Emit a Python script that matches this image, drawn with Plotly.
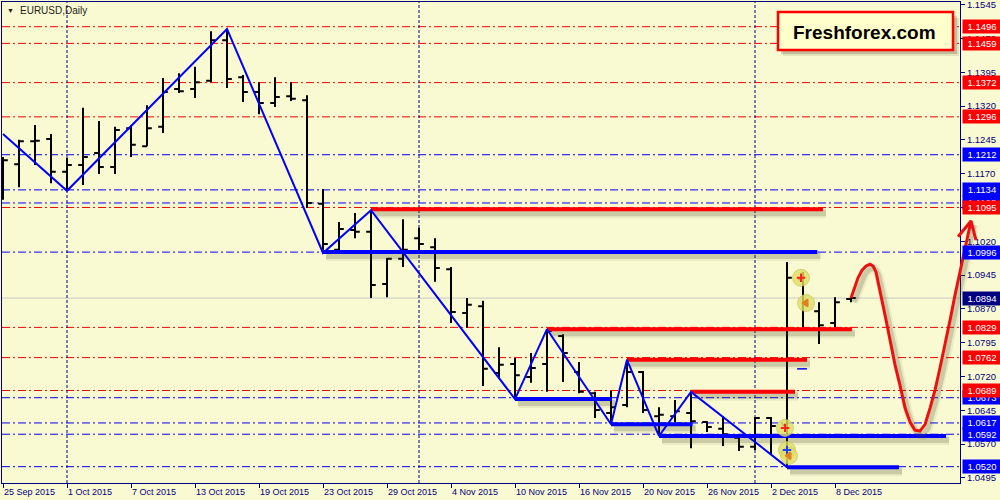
import plotly.graph_objects as go

# ---------------- data ----------------
dates = ["2015-09-25", "2015-09-28", "2015-09-29", "2015-09-30",
         "2015-10-01", "2015-10-02", "2015-10-05", "2015-10-06", "2015-10-07", "2015-10-08", "2015-10-09",
         "2015-10-12", "2015-10-13", "2015-10-14", "2015-10-15", "2015-10-16", "2015-10-19", "2015-10-20",
         "2015-10-21", "2015-10-22", "2015-10-23", "2015-10-26", "2015-10-27", "2015-10-28", "2015-10-29",
         "2015-10-30",
         "2015-11-02", "2015-11-03", "2015-11-04", "2015-11-05", "2015-11-06", "2015-11-09", "2015-11-10",
         "2015-11-11", "2015-11-12", "2015-11-13", "2015-11-16", "2015-11-17", "2015-11-18", "2015-11-19",
         "2015-11-20", "2015-11-23", "2015-11-24", "2015-11-25", "2015-11-26", "2015-11-27", "2015-11-30",
         "2015-12-01", "2015-12-02", "2015-12-03", "2015-12-04", "2015-12-07", "2015-12-08", "2015-12-09"]

opens = [1.1190, 1.1191, 1.1242, 1.1247, 1.1174, 1.1189, 1.1216, 1.1185, 1.1271, 1.1231, 1.1274,
         1.1358, 1.1358, 1.1376, 1.1466, 1.1384, 1.1351, 1.1327, 1.1342, 1.1333, 1.1103, 1.1001,
         1.1045, 1.1041, 1.0925, 1.0981, 1.1027, 1.1007, 1.0958, 1.0861, 1.0876, 1.0728, 1.0748,
         1.0719, 1.0748, 1.0810, 1.0730, 1.0683, 1.0639, 1.0657, 1.0730, 1.0632, 1.0632, 1.0639,
         1.0619, 1.0604, 1.0584, 1.0564, 1.0628, 1.0612, 1.0936, 1.0865, 1.0839, 1.0892]
highs = [1.1207, 1.1245, 1.1278, 1.1258, 1.1205, 1.1316, 1.1287, 1.1274, 1.1278, 1.1322, 1.1382,
         1.1393, 1.1407, 1.1486, 1.1491, 1.1389, 1.1373, 1.1384, 1.1373, 1.1344, 1.1136, 1.1063,
         1.1083, 1.1089, 1.0983, 1.1069, 1.1050, 1.1027, 1.0963, 1.0894, 1.0888, 1.0785, 1.0761,
         1.0772, 1.0825, 1.0814, 1.0752, 1.0686, 1.0688, 1.0757, 1.0732, 1.0652, 1.0668, 1.0683,
         1.0621, 1.0632, 1.0590, 1.0630, 1.0630, 1.0974, 1.0952, 1.0885, 1.0896, 1.0896]
lows = [1.1112, 1.1140, 1.1189, 1.1149, 1.1132, 1.1145, 1.1169, 1.1169, 1.1207, 1.1231, 1.1260,
        1.1349, 1.1338, 1.1373, 1.1360, 1.1329, 1.1302, 1.1318, 1.1331, 1.1094, 1.0994, 1.0996,
        1.1027, 1.0894, 1.0896, 1.0963, 1.0998, 1.0930, 1.0839, 1.0828, 1.0699, 1.0717, 1.0670,
        1.0706, 1.0686, 1.0708, 1.0683, 1.0628, 1.0614, 1.0652, 1.0639, 1.0588, 1.0619, 1.0561,
        1.0597, 1.0566, 1.0555, 1.0557, 1.0546, 1.0517, 1.0830, 1.0792, 1.0830, 1.0885]
closes = [1.1200, 1.1242, 1.1243, 1.1174, 1.1189, 1.1207, 1.1185, 1.1267, 1.1234, 1.1271, 1.1351,
          1.1353, 1.1373, 1.1466, 1.1380, 1.1351, 1.1327, 1.1340, 1.1336, 1.1105, 1.1014, 1.1047,
          1.1041, 1.0923, 1.0981, 1.1001, 1.1014, 1.0961, 1.0863, 1.0879, 1.0737, 1.0746, 1.0723,
          1.0739, 1.0821, 1.0772, 1.0686, 1.0646, 1.0652, 1.0730, 1.0646, 1.0635, 1.0643, 1.0621,
          1.0608, 1.0592, 1.0564, 1.0628, 1.0610, 1.0939, 1.0883, 1.0834, 1.0885, 1.0894]

tick_dates = ["2015-09-25", "2015-10-01", "2015-10-07", "2015-10-13", "2015-10-19", "2015-10-23",
              "2015-10-29", "2015-11-04", "2015-11-10", "2015-11-16", "2015-11-20", "2015-11-26",
              "2015-12-02", "2015-12-08"]
tick_labels = ["25 Sep 2015", "1 Oct 2015", "7 Oct 2015", "13 Oct 2015", "19 Oct 2015", "23 Oct 2015",
               "29 Oct 2015", "4 Nov 2015", "10 Nov 2015", "16 Nov 2015", "20 Nov 2015", "26 Nov 2015",
               "2 Dec 2015", "8 Dec 2015"]
price_ticks = [1.1545, 1.1470, 1.1395, 1.1320, 1.1245, 1.1170, 1.1095, 1.1020, 1.0945, 1.0870,
               1.0795, 1.0720, 1.0645, 1.0570, 1.0495]

red_levels = [1.1496, 1.1459, 1.1372, 1.1296, 1.1095, 1.0829, 1.0762, 1.0689]
blue_levels = [1.1212, 1.1134, 1.1105, 1.0996, 1.0673, 1.0617, 1.0592, 1.0520]
bid_price = 1.0894
month_starts = ["2015-10-01", "2015-11-02", "2015-12-01"]

zz_dates = ["2015-09-25", "2015-10-01", "2015-10-15", "2015-10-23", "2015-10-28", "2015-11-10",
            "2015-11-12", "2015-11-18", "2015-11-19", "2015-11-23", "2015-11-25", "2015-12-03"]
zz_prices = [1.1258, 1.1132, 1.1491, 1.0994, 1.1089, 1.0670, 1.0825, 1.0614, 1.0757, 1.0588,
             1.0686, 1.0519]

res_start = ["2015-10-28", "2015-11-12", "2015-11-19", "2015-11-25"]
res_end = [51.25, 53.06, 50.25, 49.5]          # in bar units
res_price = [1.1091, 1.0825, 1.0757, 1.0686]
sup_start = ["2015-10-23", "2015-11-10", "2015-11-18", "2015-11-23", "2015-12-03"]
sup_end = [50.9, 38.06, 43.1, 58.94, 56.0]
sup_price = [1.0996, 1.0670, 1.0614, 1.0588, 1.0519]

# hand-drawn forecast curve (bar units, price)
fc_x = [53.0, 53.25, 53.44, 53.69, 53.94, 54.19, 54.38, 54.56, 54.81, 55.13, 55.44, 55.75, 56.06,
        56.38, 56.69, 57.0, 57.31, 57.63, 57.94, 58.25, 58.56, 58.88, 59.19, 59.5, 59.81, 60.06,
        60.31, 60.5]
fc_y = [1.0894, 1.0918, 1.0939, 1.0956, 1.0965, 1.0969, 1.0965, 1.0952, 1.0912, 1.0856, 1.0801,
        1.0746, 1.0701, 1.0650, 1.0619, 1.0601, 1.0599, 1.0614, 1.0650, 1.0690, 1.0739, 1.0790,
        1.0845, 1.0901, 1.0952, 1.0996, 1.1034, 1.1065]
arrow_x = [59.69, 60.5, 60.81]
arrow_y = [1.1030, 1.1065, 1.1023]

trade_x = [49.875, 50.19, 48.875, 49.0, 49.125]
trade_y = [1.0939, 1.0883, 1.0606, 1.0557, 1.0544]
order_x = [49.94]
order_y = [1.0737]

# ---------------- layout constants ----------------
W, H = 1000, 500
ML, MR, MT, MB = 2, 0, 2, 17
PLOT_W = W - ML - MR
PLOT_H = H - MT - MB
X_DOM_END = 958 / PLOT_W
X_RANGE = [-0.0625, 59.8125]
X2_RANGE = [-0.0625, 62.3125]
Y_RANGE = [1.04838, 1.15508]
PX_X = (X_RANGE[1] - X_RANGE[0]) / 958
PX_Y = (Y_RANGE[1] - Y_RANGE[0]) / PLOT_H

BG = "#FAFAD2"
NAVY = "#000080"
RED = "#FF0000"
BLUE = "#0000FF"
FONT = "Tahoma, 'Liberation Sans', Arial, sans-serif"

idx = {d: i for i, d in enumerate(dates)}
xs = list(range(len(dates)))


def px(x):
    return (x - ML) / PLOT_W


def py(y):
    return (H - MB - y) / PLOT_H


fig = go.Figure()


def add_shadow(xv, yv, w, xa="x", ya="y"):
    for extra, alpha in [(6, 0.08), (2, 0.20)]:
        fig.add_trace(go.Scatter(
            x=[v + 3 * PX_X for v in xv], y=[v - 4 * PX_Y for v in yv], mode="lines",
            line=dict(color=f"rgba(70,70,40,{alpha})", width=w + extra),
            xaxis=xa, yaxis=ya, hoverinfo="skip", showlegend=False))


# thick support / resistance segments
for s, e, p in zip(res_start, res_end, res_price):
    add_shadow([idx[s], e], [p, p], 4)
for s, e, p in zip(sup_start, sup_end, sup_price):
    add_shadow([idx[s], e], [p, p], 4)
for s, e, p in zip(sup_start, sup_end, sup_price):
    fig.add_trace(go.Scatter(x=[idx[s], e], y=[p, p], mode="lines",
                             line=dict(color=BLUE, width=4), hoverinfo="skip", showlegend=False))
for s, e, p in zip(res_start, res_end, res_price):
    fig.add_trace(go.Scatter(x=[idx[s], e], y=[p, p], mode="lines",
                             line=dict(color=RED, width=4), hoverinfo="skip", showlegend=False))

# zigzag
fig.add_trace(go.Scatter(x=[idx[d] for d in zz_dates], y=zz_prices, mode="lines",
                         line=dict(color=BLUE, width=2), hoverinfo="skip", showlegend=False))

# OHLC bars
fig.add_trace(go.Ohlc(x=xs, open=opens, high=highs, low=lows, close=closes,
                      increasing=dict(line=dict(color="black", width=2)),
                      decreasing=dict(line=dict(color="black", width=2)),
                      tickwidth=0.3, hoverinfo="skip", showlegend=False))

# trade markers
fig.add_trace(go.Scatter(x=trade_x, y=trade_y, mode="markers",
                         marker=dict(size=17, color="rgba(222,222,100,0.80)",
                                     line=dict(width=1, color="rgba(190,190,90,0.6)")),
                         hoverinfo="skip", showlegend=False))
fig.add_trace(go.Scatter(x=trade_x, y=trade_y, mode="markers",
                         marker=dict(size=6, symbol=["cross-thin", "triangle-left", "cross-thin",
                                                     "cross-thin", "triangle-left"],
                                     color=["#ff2020", "#e08020", "#ff2020", "#2040ff", "#e08020"],
                                     line=dict(width=2, color=["#ff2020", "#e08020", "#ff2020",
                                                               "#2040ff", "#e08020"])),
                         hoverinfo="skip", showlegend=False))
fig.add_trace(go.Scatter(x=order_x, y=order_y, mode="markers",
                         marker=dict(size=7, symbol="line-ew", line=dict(width=1.5, color=BLUE)),
                         hoverinfo="skip", showlegend=False))

# forecast curve on full-width overlay axes (so it can run past the price scale)
add_shadow(fc_x, fc_y, 3, "x2", "y2")
fig.add_trace(go.Scatter(x=fc_x, y=fc_y, mode="lines", line=dict(color="#EE1010", width=3),
                         xaxis="x2", yaxis="y2", hoverinfo="skip", showlegend=False))
fig.add_trace(go.Scatter(x=arrow_x, y=arrow_y, mode="lines", line=dict(color="#EE1010", width=3),
                         xaxis="x2", yaxis="y2", hoverinfo="skip", showlegend=False))

# ---------------- shapes ----------------
shapes = []
for p in red_levels:
    shapes.append(dict(type="line", xref="x domain", x0=0, x1=1, yref="y", y0=p, y1=p,
                       line=dict(color=RED, width=1, dash="8px,3px,2px,3px"), layer="below"))
for p in blue_levels:
    shapes.append(dict(type="line", xref="x domain", x0=0, x1=1, yref="y", y0=p, y1=p,
                       line=dict(color=BLUE, width=1, dash="8px,3px,2px,3px"), layer="below"))
shapes.append(dict(type="line", xref="x domain", x0=0, x1=1, yref="y", y0=bid_price, y1=bid_price,
                   line=dict(color="#C8C8C8", width=1), layer="below"))
for d in month_starts:
    shapes.append(dict(type="line", xref="x", x0=idx[d], x1=idx[d], yref="y domain", y0=0, y1=1,
                       line=dict(color=NAVY, width=1, dash="3px,2px"), layer="below"))
# Freshforex badge
shapes.append(dict(type="rect", xref="paper", yref="paper", x0=px(783), x1=px(959), y0=py(56), y1=py(18),
                   line=dict(width=0), fillcolor="rgba(60,60,30,0.12)", layer="above"))
shapes.append(dict(type="rect", xref="paper", yref="paper", x0=px(781), x1=px(957), y0=py(54), y1=py(16),
                   line=dict(width=0), fillcolor="rgba(60,60,30,0.22)", layer="above"))
shapes.append(dict(type="rect", xref="paper", yref="paper", x0=px(778), x1=px(953), y0=py(50), y1=py(12),
                   line=dict(color=RED, width=2.5), fillcolor="#FFFFCC", layer="above"))

# ---------------- annotations ----------------
ann = []
for p in blue_levels:
    ann.append(dict(xref="x domain", x=1, xanchor="left", xshift=2, yref="y", y=p, yanchor="middle",
                    text=f"{p:.4f}", showarrow=False, bgcolor=BLUE, width=36, height=11,
                    font=dict(color="white", size=9.5, family=FONT)))
for p in red_levels:
    ann.append(dict(xref="x domain", x=1, xanchor="left", xshift=2, yref="y", y=p, yanchor="middle",
                    text=f"{p:.4f}", showarrow=False, bgcolor=RED, width=36, height=11,
                    font=dict(color="white", size=9.5, family=FONT)))
ann.append(dict(xref="x domain", x=1, xanchor="left", xshift=2, yref="y", y=bid_price, yanchor="middle",
                text=f"{bid_price:.4f}", showarrow=False, bgcolor=NAVY, width=36, height=11,
                font=dict(color="white", size=9.5, family=FONT)))
ann.append(dict(xref="paper", yref="paper", x=px(18), y=py(11), xanchor="left", yanchor="middle",
                text="EURUSD,Daily", showarrow=False, font=dict(color="#202020", size=10, family=FONT)))
ann.append(dict(xref="paper", yref="paper", x=px(10), y=py(10), xanchor="center", yanchor="middle",
                text="▼", showarrow=False, font=dict(color="#202020", size=7, family=FONT)))
ann.append(dict(xref="paper", yref="paper", x=px(864), y=py(32), xanchor="center", yanchor="middle",
                text="<b>Freshforex.com</b>", showarrow=False,
                font=dict(color="black", size=19, family="'Liberation Sans', Arial, sans-serif")))

fig.update_layout(
    width=W, height=H,
    margin=dict(l=ML, r=MR, t=MT, b=MB),
    paper_bgcolor=BG, plot_bgcolor="rgba(0,0,0,0)",
    showlegend=False, hovermode=False,
    shapes=shapes, annotations=ann,
    xaxis=dict(domain=[0, X_DOM_END], range=X_RANGE, anchor="y",
               tickvals=[idx[d] for d in tick_dates], ticktext=tick_labels,
               ticks="outside", ticklen=4, tickcolor=NAVY, tickwidth=1,
               ticklabelposition="outside right", ticklabeloverflow="allow",
               tickfont=dict(size=9, color=NAVY, family=FONT),
               showline=True, linecolor=NAVY, linewidth=1, mirror=True,
               showgrid=False, zeroline=False, fixedrange=True,
               rangeslider=dict(visible=False)),
    yaxis=dict(domain=[0, 1], range=Y_RANGE, anchor="x", side="right",
               tickvals=price_ticks, tickformat=".4f", ticklabeloverflow="allow",
               ticks="outside", ticklen=4, tickcolor=NAVY, tickwidth=1,
               tickfont=dict(size=9.5, color=NAVY, family=FONT),
               showline=True, linecolor=NAVY, linewidth=1, mirror=True,
               showgrid=False, zeroline=False, fixedrange=True),
    xaxis2=dict(domain=[0, 1], range=X2_RANGE, anchor="y2", visible=False, fixedrange=True),
    yaxis2=dict(domain=[0, 1], range=Y_RANGE, anchor="x2", visible=False, fixedrange=True),
)

fig.write_html("out.html", config={"displayModeBar": False},
               post_script="document.body.style.margin='0';document.body.style.overflow='hidden';"
                           "document.body.style.background='" + BG + "';")
